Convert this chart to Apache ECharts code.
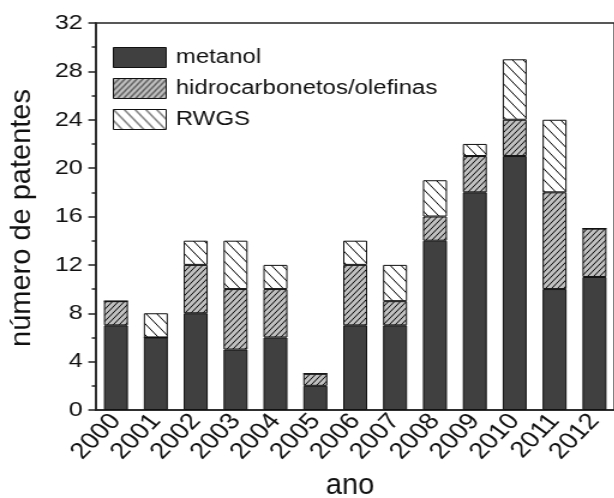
<!DOCTYPE html>
<html>
<head>
<meta charset="utf-8">
<script src="https://cdn.jsdelivr.net/npm/echarts@6/dist/echarts.min.js"></script>
<style>
html,body{margin:0;padding:0;background:#fff;overflow:hidden}
#wrap{width:614px;height:498px;overflow:hidden;position:relative}
#c{width:512px;height:498px;transform:scaleX(1.2);transform-origin:0 0;position:absolute;left:0;top:0}
</style>
</head>
<body>
<div id="wrap"><div id="c"></div></div>
<script>
const years = ['2000','2001','2002','2003','2004','2005','2006','2007','2008','2009','2010','2011','2012'];
const metanol = [7, 6, 8, 5, 6, 2, 7, 7, 14, 18, 21, 10, 11];
const hidrocarbonetos = [2, 0, 4, 5, 4, 1, 5, 2, 2, 3, 3, 8, 4];
const rwgs = [0, 2, 2, 4, 2, 0, 2, 3, 3, 1, 5, 6, 0];
const seriesNames = ['metanol', 'hidrocarbonetos/olefinas', 'RWGS'];
const yTicks = [0, 4, 8, 12, 16, 20, 24, 28, 32];
const xTitle = 'ano';
const yTitle = 'número de patentes';

const SX = 1.2;
function hatch(w, h, bg, dir) {
  const c = document.createElement('canvas');
  c.width = w; c.height = h;
  const g = c.getContext('2d');
  g.fillStyle = bg; g.fillRect(0, 0, w, h);
  g.strokeStyle = '#000'; g.lineWidth = 1;
  g.beginPath();
  for (let k = -1; k <= 1; k++) {
    if (dir === '/') { g.moveTo(k * w - w / h, h + 1); g.lineTo(k * w + w + w / h, -1); }
    else { g.moveTo(k * w - w / h, -1); g.lineTo(k * w + w + w / h, h + 1); }
  }
  g.stroke();
  return { image: c, repeat: 'repeat' };
}

const chart = echarts.init(document.getElementById('c'), null, { renderer: 'canvas' });
const font = 'Liberation Sans, Arial, sans-serif';
const border = { borderColor: '#111', borderWidth: 1 };
chart.setOption({
  animation: false,
  backgroundColor: '#fff',
  grid: { left: 80, top: 23, height: 387, width: 439, show: true, borderColor: '#222', borderWidth: 1.5, backgroundColor: 'transparent' },
  legend: {
    orient: 'vertical', left: 94, top: 47, padding: 0, itemWidth: 44, itemHeight: 20, itemGap: 10, icon: 'rect',
    data: seriesNames,
    itemStyle: { borderColor: '#111', borderWidth: 1 },
    textStyle: { fontFamily: font, fontSize: 20, color: '#111', padding: [0, 0, 0, 3] }
  },
  graphic: [
    { type: 'text', x: 22.5 / SX, y: 218, rotation: Math.PI / 2, scaleY: 1 / SX, silent: true,
      style: { text: yTitle, fontFamily: font, fontSize: 29, fill: '#111', align: 'center', verticalAlign: 'middle' } },
    { type: 'text', x: 350 / SX, y: 486, scaleX: 1 / SX, silent: true,
      style: { text: xTitle, fontFamily: font, fontSize: 29, fill: '#111', align: 'center', verticalAlign: 'middle' } }
  ],
  xAxis: [{
    type: 'category', data: years, position: 'bottom',
    axisLine: { lineStyle: { color: '#222', width: 1.5 } },
    axisTick: { alignWithLabel: true, length: 7, lineStyle: { color: '#222', width: 1.3 } },
    axisLabel: { interval: 0, rotate: 50, fontFamily: font, fontSize: 23, color: '#111', margin: 7 },
    splitLine: { show: false }
  }, {
    type: 'category', data: years, position: 'bottom', gridIndex: 0,
    axisLine: { show: false },
    axisTick: { alignWithLabel: false, interval: 0, length: 4, lineStyle: { color: '#222', width: 1.3 } },
    axisLabel: { show: false }, splitLine: { show: false }
  }],
  yAxis: {
    type: 'value', min: 0, max: 32, interval: 4,
    axisLine: { show: true, lineStyle: { color: '#222', width: 1.5 } },
    axisTick: { show: true, length: 6.4, lineStyle: { color: '#222', width: 1.5 } },
    minorTick: { show: true, splitNumber: 2, length: 3.5, lineStyle: { color: '#222', width: 1.5 } },
    axisLabel: { fontFamily: font, fontSize: 21, color: '#111', margin: 11,
      formatter: v => yTicks.includes(v) ? String(v) : '' },
    splitLine: { show: false }
  },
  series: [
    { name: seriesNames[0], type: 'bar', stack: 'a', barWidth: 20, data: metanol,
      itemStyle: Object.assign({ color: '#404040' }, border) },
    { name: seriesNames[1], type: 'bar', stack: 'a', barWidth: 20, data: hidrocarbonetos,
      itemStyle: Object.assign({ color: hatch(5, 6, '#c0c0c0', '/') }, border) },
    { name: seriesNames[2], type: 'bar', stack: 'a', barWidth: 20, data: rwgs,
      itemStyle: Object.assign({ color: hatch(9, 11, '#ffffff', '\\') }, border) }
  ]
});
</script>
</body>
</html>
